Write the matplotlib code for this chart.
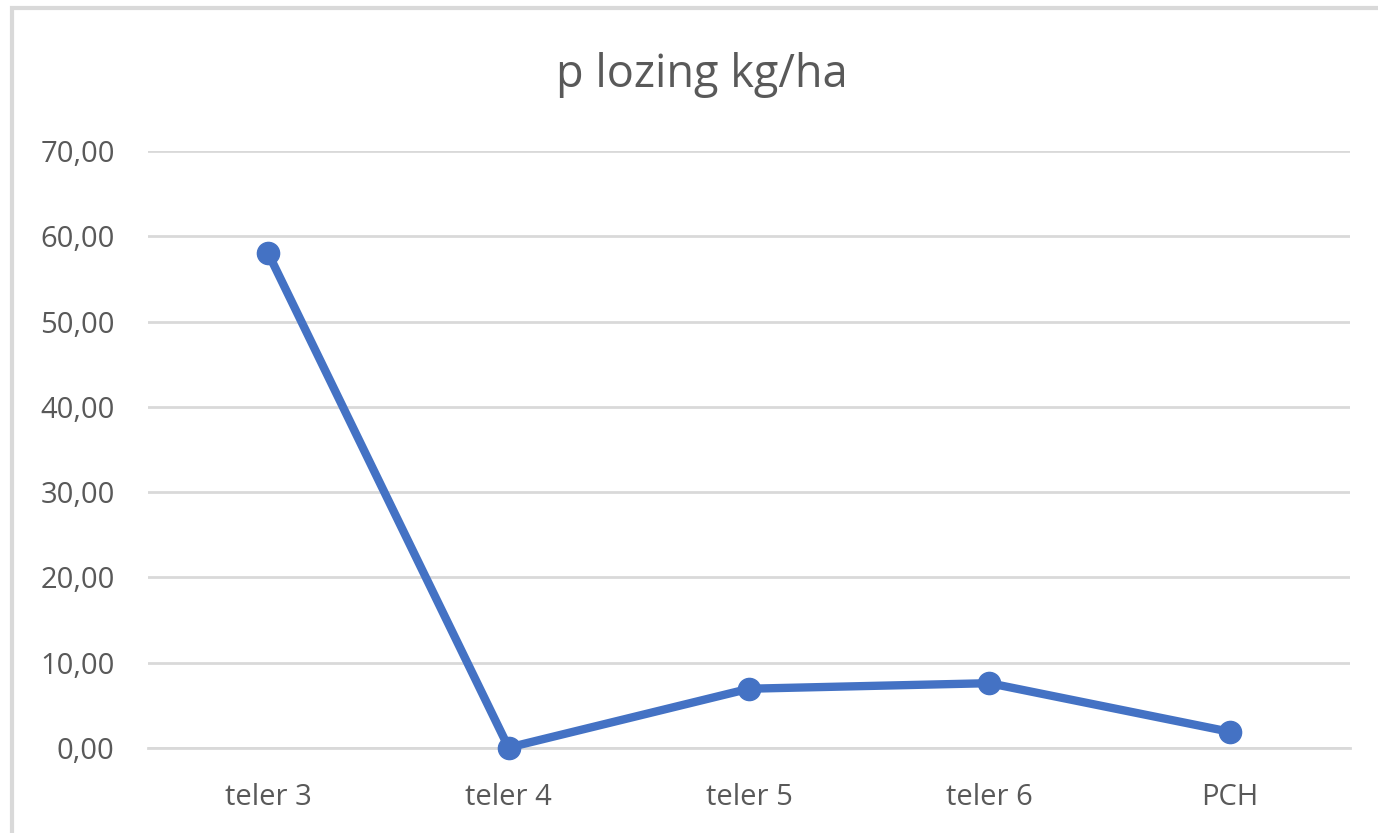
import matplotlib
matplotlib.use("Agg")
import matplotlib.pyplot as plt
from matplotlib.patches import Rectangle
from matplotlib.ticker import FuncFormatter

categories = ["teler 3", "teler 4", "teler 5", "teler 6", "PCH"]
p_lozing = [58.0, 0.05, 6.95, 7.6, 1.9]
yticks = [0, 10, 20, 30, 40, 50, 60, 70]

TEXT = "#595959"
GRID = "#D9D9D9"
BLUE = "#4472C4"

plt.rcParams["font.family"] = ["Open Sans", "DejaVu Sans"]

fig = plt.figure(figsize=(13.78, 8.33), dpi=100)
# chart frame (right/bottom edges run off the screenshot)
fig.patches.append(Rectangle((12 / 1378, -0.1), 1.2, (833 - 8) / 833 + 0.1,
                             transform=fig.transFigure, fill=False,
                             edgecolor=GRID, linewidth=3))

ax = fig.add_axes([148 / 1378, 85 / 833, 1202 / 1378, 597 / 833])
x = list(range(len(categories)))
ax.plot(x, p_lozing, color=BLUE, linewidth=6, marker="o", markersize=16,
        solid_capstyle="round", zorder=3, clip_on=False)

ax.set_xlim(-0.5, len(categories) - 0.5)
ax.set_ylim(0, 70)
ax.set_yticks(yticks)
ax.yaxis.set_major_formatter(FuncFormatter(lambda v, _: f"{v:.2f}".replace(".", ",")))
ax.set_xticks(x)
ax.set_xticklabels(categories)
ax.tick_params(length=0, labelsize=21, colors=TEXT)
ax.tick_params(axis="y", pad=24)
ax.tick_params(axis="x", pad=25)
ax.grid(axis="y", color=GRID, linewidth=2)
ax.set_axisbelow(True)
for s in ax.spines.values():
    s.set_visible(False)
ax.spines["bottom"].set_visible(True)
ax.spines["bottom"].set_color(GRID)
ax.spines["bottom"].set_linewidth(2)

fig.text(702 / 1378, 1 - 75 / 833, "p lozing kg/ha", ha="center", va="center",
         fontsize=32.5, color=TEXT)

fig.savefig("out.png", dpi=100)
